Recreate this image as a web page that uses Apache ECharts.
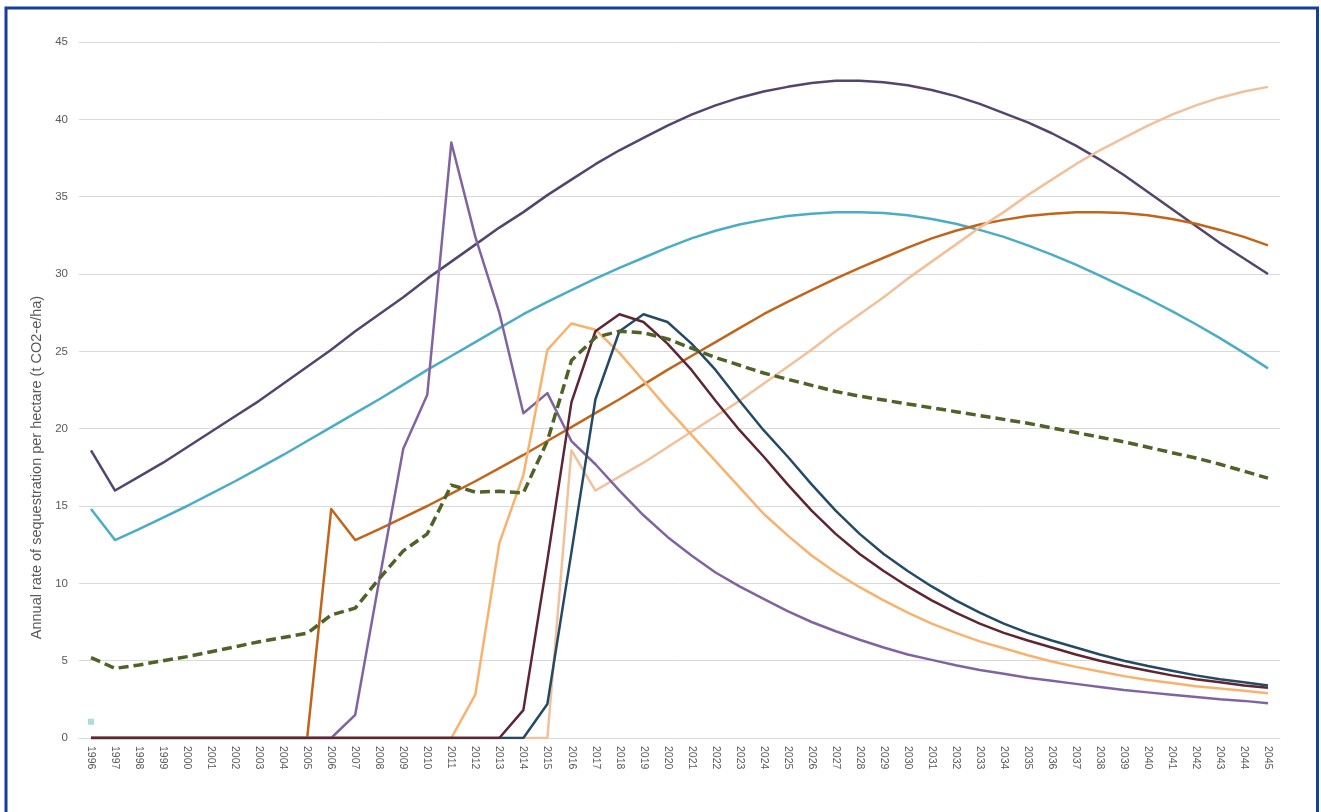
<!DOCTYPE html>
<html>
<head>
<meta charset="utf-8">
<script src="https://cdn.jsdelivr.net/npm/echarts@6/dist/echarts.min.js"></script>
<style>
html,body{margin:0;padding:0;background:#fff;}
#chart{width:1321px;height:812px;}
</style>
</head>
<body>
<div id="chart"></div>
<script>
const years = ['1996','1997','1998','1999','2000','2001','2002','2003','2004','2005',
  '2006','2007','2008','2009','2010','2011','2012','2013','2014','2015',
  '2016','2017','2018','2019','2020','2021','2022','2023','2024','2025',
  '2026','2027','2028','2029','2030','2031','2032','2033','2034','2035',
  '2036','2037','2038','2039','2040','2041','2042','2043','2044','2045'];

const yTicks = [0,5,10,15,20,25,30,35,40,45];

const seriesTop = [18.6,16.0,16.9,17.8,18.8,19.8,20.8,21.8,22.9,24.0,
  25.1,26.3,27.4,28.5,29.7,30.8,31.9,33.0,34.0,35.1,
  36.1,37.1,38.0,38.8,39.6,40.3,40.9,41.4,41.8,42.1,
  42.35,42.5,42.5,42.4,42.2,41.9,41.5,41.0,40.4,39.8,
  39.1,38.3,37.4,36.4,35.3,34.2,33.1,32.0,31.0,30.0];

const seriesTeal = [14.8,12.8,13.5,14.25,15.0,15.8,16.6,17.45,18.3,19.2,
  20.1,21.0,21.9,22.85,23.8,24.7,25.6,26.5,27.4,28.2,
  28.95,29.7,30.4,31.05,31.7,32.3,32.8,33.2,33.5,33.75,
  33.9,34.0,34.0,33.95,33.8,33.55,33.25,32.85,32.4,31.85,
  31.25,30.6,29.9,29.15,28.4,27.6,26.75,25.85,24.9,23.9];

const seriesOrange = [0,0,0,0,0,0,0,0,0,0,
  14.8,12.8,13.5,14.25,15.0,15.8,16.6,17.45,18.3,19.2,
  20.1,21.0,21.9,22.85,23.8,24.7,25.6,26.5,27.4,28.2,
  28.95,29.7,30.4,31.05,31.7,32.3,32.8,33.2,33.5,33.75,
  33.9,34.0,34.0,33.95,33.8,33.55,33.25,32.85,32.4,31.85];

const seriesPeach = [0,0,0,0,0,0,0,0,0,0,
  0,0,0,0,0,0,0,0,0,0,
  18.6,16.0,16.9,17.8,18.8,19.8,20.8,21.8,22.9,24.0,
  25.1,26.3,27.4,28.5,29.7,30.8,31.9,33.0,34.0,35.1,
  36.1,37.1,38.0,38.8,39.6,40.3,40.9,41.4,41.8,42.1];

const seriesLavender = [0,0,0,0,0,0,0,0,0,0,
  0,1.5,10.2,18.7,22.2,38.5,32.4,27.5,21.0,22.3,
  19.2,17.7,16.0,14.4,13.0,11.8,10.7,9.8,9.0,8.2,
  7.5,6.9,6.35,5.85,5.4,5.05,4.7,4.4,4.15,3.9,
  3.7,3.5,3.3,3.1,2.95,2.8,2.65,2.5,2.4,2.25];

const seriesLightOrange = [0,0,0,0,0,0,0,0,0,0,
  0,0,0,0,0,0,2.8,12.6,17.0,25.1,
  26.8,26.4,24.9,23.1,21.3,19.6,17.9,16.2,14.5,13.1,
  11.8,10.7,9.75,8.9,8.1,7.4,6.8,6.25,5.8,5.35,
  4.95,4.6,4.3,4.0,3.75,3.55,3.35,3.2,3.05,2.9];

const seriesMaroon = [0,0,0,0,0,0,0,0,0,0,
  0,0,0,0,0,0,0,0,1.8,11.5,
  21.7,26.3,27.4,26.9,25.5,23.8,21.8,19.9,18.2,16.4,
  14.7,13.2,11.9,10.8,9.8,8.9,8.1,7.4,6.8,6.3,
  5.85,5.4,5.0,4.65,4.35,4.05,3.8,3.6,3.4,3.25];

const seriesNavy = [0,0,0,0,0,0,0,0,0,0,
  0,0,0,0,0,0,0,0,0,2.2,
  12.0,21.9,26.3,27.4,26.9,25.5,23.8,21.8,19.9,18.2,
  16.4,14.7,13.2,11.9,10.8,9.8,8.9,8.1,7.4,6.8,
  6.3,5.85,5.4,5.0,4.65,4.35,4.05,3.8,3.6,3.4];

const seriesAverage = [5.2,4.5,4.72,5.0,5.26,5.58,5.9,6.22,6.5,6.77,
  7.95,8.4,10.3,12.1,13.2,16.35,15.9,15.95,15.85,19.2,
  24.4,25.9,26.3,26.2,25.8,25.2,24.6,24.1,23.6,23.2,
  22.8,22.4,22.1,21.85,21.6,21.35,21.1,20.85,20.6,20.35,
  20.05,19.75,19.45,19.15,18.8,18.45,18.1,17.7,17.25,16.8];

const markerYears = ['1996'];
const markerValues = [1.05];

const chart = echarts.init(document.getElementById('chart'), null, {renderer: 'canvas'});

function lineSeries(name, data, color, width, dash) {
  return {
    name: name,
    type: 'line',
    data: data,
    symbol: 'none',
    showSymbol: false,
    smooth: false,
    lineStyle: {color: color, width: width, type: dash || 'solid', cap: 'butt', join: 'round'},
    itemStyle: {color: color},
    emphasis: {disabled: true},
    animation: false
  };
}

const option = {
  animation: false,
  backgroundColor: '#ffffff',
  grid: {left: 79, top: 42, width: 1201, height: 696, containLabel: false},
  graphic: [{
    type: 'rect',
    silent: true,
    z: 100,
    shape: {x: 6, y: 8, width: 1311.5, height: 900},
    style: {fill: 'none', stroke: '#163f9b', lineWidth: 3}
  }],
  xAxis: {
    type: 'category',
    data: years,
    boundaryGap: true,
    axisLine: {show: true, lineStyle: {color: '#d9d9d9', width: 1}},
    axisTick: {show: false},
    axisLabel: {
      interval: 0,
      rotate: -90,
      margin: 8,
      color: '#595959',
      fontSize: 10.5,
      fontFamily: 'Liberation Sans, Arial, sans-serif'
    },
    splitLine: {show: false}
  },
  yAxis: {
    type: 'value',
    min: yTicks[0],
    max: yTicks[yTicks.length - 1],
    interval: 5,
    name: 'Annual rate of sequestration per hectare (t CO2-e/ha)',
    nameLocation: 'middle',
    nameGap: 34,
    nameTextStyle: {
      color: '#595959',
      fontSize: 14.5,
      fontFamily: 'Liberation Sans, Arial, sans-serif',
      padding: [0, 155, 0, 0]
    },
    axisLine: {show: false},
    axisTick: {show: false},
    axisLabel: {
      margin: 11,
      color: '#595959',
      fontSize: 11.5,
      fontFamily: 'Liberation Sans, Arial, sans-serif'
    },
    splitLine: {show: true, lineStyle: {color: '#d9d9d9', width: 1}}
  },
  series: [
    lineSeries('Series A', seriesTeal, '#4bacc6', 2.5),
    lineSeries('Series B', seriesTop, '#53456b', 2.5),
    lineSeries('Series C', seriesOrange, '#c0651a', 2.5),
    lineSeries('Series D', seriesPeach, '#f1c19b', 2.5),
    lineSeries('Series E', seriesLavender, '#8064a2', 2.5),
    lineSeries('Series F', seriesLightOrange, '#f8b26e', 2.5),
    lineSeries('Series G', seriesNavy, '#254a66', 2.5),
    lineSeries('Series H', seriesMaroon, '#5e2633', 2.5),
    lineSeries('Average', seriesAverage, '#4f6228', 3.5, [10, 5]),
    {
      name: 'Marker',
      type: 'scatter',
      data: markerYears.map((y, i) => [y, markerValues[i]]),
      symbol: 'rect',
      symbolSize: 6,
      itemStyle: {color: '#9dcfd9'},
      emphasis: {disabled: true},
      animation: false
    }
  ]
};

chart.setOption(option);
</script>
</body>
</html>
